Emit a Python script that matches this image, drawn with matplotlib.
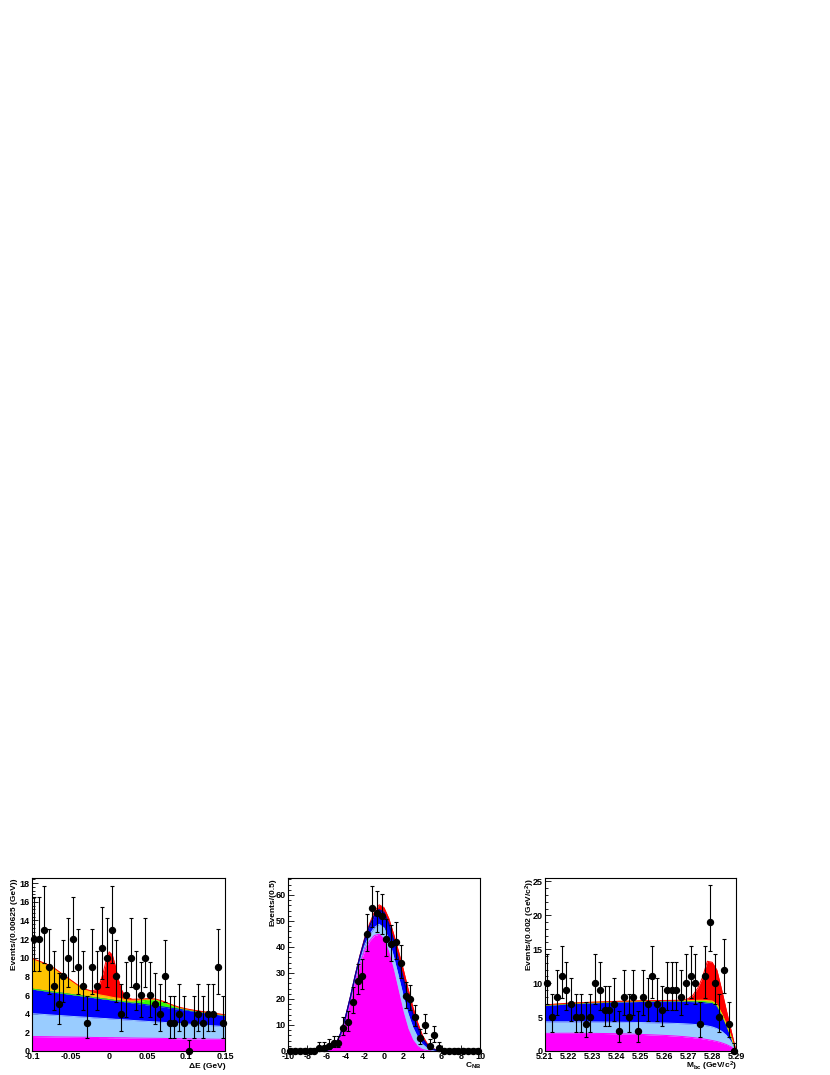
import numpy as np
import matplotlib
matplotlib.use('Agg')
import matplotlib.pyplot as plt
from matplotlib.ticker import MultipleLocator, FixedLocator

plt.rcParams['font.family'] = ['Liberation Sans', 'DejaVu Sans']
plt.rcParams['mathtext.default'] = 'regular'
plt.rcParams['axes.unicode_minus'] = False

# ---------------- Panel 1: Delta E ----------------
de_range = (-0.1, 0.15)
de_counts = [12, 12, 13, 9, 7, 5, 8, 10, 12, 9,
             7, 3, 9, 7, 11, 10, 13, 8, 4, 6,
             10, 7, 6, 10, 6, 5, 4, 8, 3, 3,
             4, 3, 0, 3, 4, 3, 4, 4, 9, 3]
de_x = [-0.1, -0.09, -0.08, -0.07, -0.06, -0.05, -0.04, -0.03, -0.024, -0.02,
        -0.016, -0.012, -0.008, -0.004, 0.0, 0.004, 0.008, 0.012, 0.016, 0.02,
        0.025, 0.03, 0.04, 0.05, 0.06, 0.07, 0.08, 0.09, 0.1, 0.11,
        0.12, 0.13, 0.14, 0.15]
de_magenta = [1.55, 1.54, 1.53, 1.51, 1.50, 1.49, 1.48, 1.47, 1.46, 1.45,
              1.45, 1.44, 1.44, 1.44, 1.43, 1.43, 1.42, 1.42, 1.41, 1.41,
              1.40, 1.39, 1.38, 1.37, 1.36, 1.35, 1.33, 1.32, 1.31, 1.30,
              1.29, 1.27, 1.26, 1.25]
de_lightblue = [2.45, 2.41, 2.36, 2.32, 2.28, 2.23, 2.19, 2.15, 2.12, 2.10,
                2.09, 2.07, 2.05, 2.04, 2.02, 2.00, 1.98, 1.97, 1.95, 1.93,
                1.91, 1.89, 1.85, 1.80, 1.76, 1.72, 1.67, 1.63, 1.59, 1.54,
                1.50, 1.46, 1.41, 1.37]
de_blue = [2.64, 2.58, 2.52, 2.46, 2.41, 2.35, 2.29, 2.23, 2.20, 2.17,
           2.15, 2.13, 2.10, 2.08, 2.06, 2.03, 2.01, 1.99, 1.97, 1.94,
           1.91, 1.88, 1.82, 1.76, 1.71, 1.65, 1.59, 1.53, 1.48, 1.42,
           1.36, 1.30, 1.24, 1.18]
de_green = [0, 0, 0, 0, 0, 0, 0, 0, 0, 0,
            0, 0, 0, 0, 0, 0, 0, 0, 0, 0.01,
            0.03, 0.07, 0.30, 0.52, 0.62, 0.50, 0.30, 0.14, 0.06, 0.03,
            0.02, 0.02, 0.02, 0.02]
de_orange = [3.26, 3.07, 2.84, 2.50, 2.00, 1.53, 1.05, 0.71, 0.56, 0.47,
             0.42, 0.38, 0.36, 0.34, 0.32, 0.30, 0.29, 0.28, 0.27, 0.25,
             0.23, 0.20, 0.16, 0.12, 0.10, 0.08, 0.07, 0.06, 0.05, 0.05,
             0.04, 0.04, 0.04, 0.04]
de_red = [0.02, 0.02, 0.02, 0.02, 0.02, 0.02, 0.02, 0.05, 0.12, 0.28,
          0.60, 1.25, 2.35, 3.80, 4.80, 4.55, 3.40, 1.95, 0.95, 0.45,
          0.22, 0.12, 0.06, 0.04, 0.03, 0.03, 0.03, 0.03, 0.03, 0.03,
          0.03, 0.03, 0.03, 0.03]
de_xticks = [-0.1, -0.05, 0.0, 0.05, 0.1, 0.15]
de_xticklabels = ['-0.1', '-0.05', '0', '0.05', '0.1', '0.15']
de_yticks = [0, 2, 4, 6, 8, 10, 12, 14, 16, 18]

# ---------------- Panel 2: C_NB ----------------
cnb_range = (-10.0, 10.0)
cnb_counts = [0, 0, 0, 0, 0, 0, 1, 1, 2, 3,
              3, 9, 11, 19, 27, 29, 45, 55, 53, 52,
              43, 41, 42, 34, 21, 20, 13, 5, 10, 2,
              6, 1, 0, 0, 0, 0, 0, 0, 0, 0]
cnb_x = [-10.0, -9.5, -9.0, -8.5, -8.0, -7.5, -7.0, -6.5, -6.0, -5.5,
         -5.0, -4.5, -4.0, -3.5, -3.0, -2.5, -2.0, -1.5, -1.0, -0.5,
         0.0, 0.5, 1.0, 1.5, 2.0, 2.5, 3.0, 3.5, 4.0, 4.5,
         5.0, 5.5, 6.0, 6.5, 7.0, 7.5, 8.0, 8.5, 9.0, 9.5, 10.0]
cnb_magenta = [0, 0, 0, 0, 0, 0, 0, 0, 0.2, 0.8,
               2.5, 6.5, 12.5, 19.5, 27.0, 33.5, 38.8, 42.3, 44.4, 44.9,
               43.0, 38.0, 31.0, 23.0, 15.0, 8.5, 4.2, 1.8, 0.6, 0.15,
               0, 0, 0, 0, 0, 0, 0, 0, 0, 0, 0]
cnb_lightblue = [0, 0, 0, 0, 0, 0, 0, 0, 0.01, 0.03,
                 0.08, 0.15, 0.30, 0.55, 0.90, 1.30, 1.80, 2.40, 3.10, 3.80,
                 4.30, 4.80, 5.20, 5.80, 6.20, 5.90, 4.90, 3.50, 2.00, 0.90,
                 0.30, 0.08, 0.02, 0, 0, 0, 0, 0, 0, 0, 0]
cnb_blue = [0, 0, 0, 0, 0, 0, 0, 0, 0.01, 0.04,
            0.10, 0.20, 0.35, 0.60, 1.00, 1.60, 2.40, 3.40, 4.60, 5.60,
            5.90, 6.00, 6.30, 6.60, 6.80, 6.30, 5.20, 3.70, 2.20, 1.20,
            0.45, 0.15, 0.04, 0.01, 0, 0, 0, 0, 0, 0, 0]
cnb_red = [0, 0, 0, 0, 0, 0, 0, 0, 0, 0.01,
           0.03, 0.05, 0.10, 0.15, 0.25, 0.40, 0.60, 0.90, 1.30, 1.90,
           1.90, 2.20, 2.50, 3.10, 3.50, 3.30, 2.70, 2.00, 1.20, 0.65,
           0.25, 0.07, 0.02, 0, 0, 0, 0, 0, 0, 0, 0]
cnb_xticks = [-10, -8, -6, -4, -2, 0, 2, 4, 6, 8, 10]
cnb_xticklabels = ['-10', '-8', '-6', '-4', '-2', '0', '2', '4', '6', '8', '10']
cnb_yticks = [0, 10, 20, 30, 40, 50, 60]

# ---------------- Panel 3: Mbc ----------------
mbc_range = (5.21, 5.29)
mbc_counts = [10, 5, 8, 11, 9, 7, 5, 5, 4, 5,
              10, 9, 6, 6, 7, 3, 8, 5, 8, 3,
              8, 7, 11, 7, 6, 9, 9, 9, 8, 10,
              11, 10, 4, 11, 19, 10, 5, 12, 4, 0]
mbc_x = [5.21, 5.22, 5.23, 5.24, 5.25, 5.26, 5.265, 5.268, 5.27, 5.272,
         5.274, 5.276, 5.278, 5.28, 5.282, 5.284, 5.286, 5.288, 5.29]
mbc_magenta = [2.60, 2.62, 2.60, 2.55, 2.45, 2.30, 2.20, 2.12, 2.05, 1.97,
               1.89, 1.80, 1.68, 1.55, 1.40, 1.20, 0.95, 0.60, 0]
mbc_lightblue = [1.70, 1.68, 1.68, 1.70, 1.75, 1.82, 1.86, 1.90, 1.93, 1.96,
                 1.98, 2.00, 2.02, 2.00, 1.90, 1.70, 1.35, 0.70, 0]
mbc_blue = [2.40, 2.65, 2.82, 2.97, 3.10, 3.23, 3.29, 3.31, 3.32, 3.34,
            3.35, 3.35, 3.35, 3.45, 3.30, 2.40, 1.50, 0.70, 0]
mbc_green = [0.03, 0.03, 0.03, 0.03, 0.03, 0.03, 0.03, 0.03, 0.05, 0.08,
             0.12, 0.16, 0.18, 0.18, 0.15, 0.10, 0.06, 0.03, 0]
mbc_orange = [0.05, 0.05, 0.05, 0.05, 0.05, 0.05, 0.05, 0.05, 0.07, 0.10,
              0.14, 0.18, 0.20, 0.20, 0.17, 0.12, 0.07, 0.03, 0]
mbc_red = [0.02, 0.02, 0.02, 0.02, 0.02, 0.02, 0.04, 0.12, 0.30, 0.80,
           1.80, 3.40, 5.80, 5.70, 5.00, 3.50, 2.00, 0.90, 0]
mbc_xticks = [5.21, 5.22, 5.23, 5.24, 5.25, 5.26, 5.27, 5.28, 5.29]
mbc_xticklabels = ['5.21', '5.22', '5.23', '5.24', '5.25', '5.26', '5.27', '5.28', '5.29']
mbc_yticks = [0, 5, 10, 15, 20, 25]

C_MAGENTA = '#ff00ff'
C_LBLUE = '#99ccff'
C_BLUE = '#0000ff'
C_GREEN = '#33ff00'
C_ORANGE = '#ffc400'
C_RED = '#ff0000'

W, H = 830, 1075
fig = plt.figure(figsize=(W / 100, H / 100), dpi=100)


def frac_x(px):
    return px / W


def frac_y(py):
    return 1 - py / H


def pois_err(n):
    n = np.asarray(n, dtype=float)
    lo = np.zeros_like(n)
    hi = np.full_like(n, 1.147)
    m = n > 0
    nn = n[m]
    lo[m] = nn - nn * (1 - 1 / (9 * nn) - 1 / (3 * np.sqrt(nn))) ** 3
    n1 = nn + 1
    hi[m] = n1 * (1 - 1 / (9 * n1) + 1 / (3 * np.sqrt(n1))) ** 3 - nn
    return lo, hi


def panel(left_px, right_px, xr, ylim, counts, xs, comps, xticks, xticklabels,
          yticks, xminor, yminor, ylabel, ylabel_px, xlabel, edge_blue=False):
    top_px, bot_px = 878, 1051
    ax = fig.add_axes([frac_x(left_px), frac_y(bot_px),
                       frac_x(right_px - left_px), (bot_px - top_px) / H])
    xs = np.asarray(xs)
    base = np.zeros_like(xs, dtype=float)
    for vals, col in comps:
        top = base + np.asarray(vals, dtype=float)
        ax.fill_between(xs, base, top, color=col, lw=0, zorder=2)
        ax.plot(xs, top, color=col, lw=0.7, zorder=2.5)
        base = top
    if edge_blue:
        # darker outline of the blue component
        cum = np.zeros_like(xs, dtype=float)
        for vals, col in comps[:3]:
            cum = cum + np.asarray(vals, dtype=float)
        ax.plot(xs, cum, color='#0000a0', lw=1.0, zorder=2.6)

    nb = len(counts)
    width = (xr[1] - xr[0]) / nb
    centers = xr[0] + width * (np.arange(nb) + 0.5)
    lo, hi = pois_err(counts)
    ax.errorbar(centers, counts, yerr=[lo, hi], fmt='o', color='black',
                ms=4.3, elinewidth=0.8, capsize=1.3, capthick=0.8,
                zorder=5, clip_on=False)

    ax.set_xlim(*xr)
    ax.set_ylim(*ylim)
    ax.xaxis.set_major_locator(FixedLocator(xticks))
    ax.set_xticklabels(xticklabels)
    ax.yaxis.set_major_locator(FixedLocator(yticks))
    ax.set_yticklabels([str(t) for t in yticks])
    ax.xaxis.set_minor_locator(MultipleLocator(xminor))
    ax.yaxis.set_minor_locator(MultipleLocator(yminor))
    ax.tick_params(which='both', direction='in', top=False, right=False,
                   labelsize=6.5, width=0.6)
    ax.tick_params(which='major', length=4.5)
    ax.tick_params(which='minor', length=2.2)
    ax.tick_params(axis='x', pad=1.0)
    ax.tick_params(axis='y', pad=1.5)
    for lab in ax.get_xticklabels() + ax.get_yticklabels():
        lab.set_fontweight('bold')
    for sp in ax.spines.values():
        sp.set_linewidth(0.8)
        sp.set_color('black')
        sp.set_zorder(6)
    fig.text(frac_x(ylabel_px), frac_y(top_px), ylabel, rotation=90,
             ha='center', va='top', fontsize=6, fontweight='bold')
    fig.text(frac_x(right_px + 1), frac_y(1066), xlabel, ha='right',
             va='center', fontsize=6, fontweight='bold')
    return ax


panel(32, 225, de_range, (0, 18.55), de_counts, de_x,
      [(de_magenta, C_MAGENTA), (de_lightblue, C_LBLUE), (de_blue, C_BLUE),
       (de_green, C_GREEN), (de_orange, C_ORANGE), (de_red, C_RED)],
      de_xticks, de_xticklabels, de_yticks, 0.01, 0.4,
      'Events/(0.00625 (GeV))', 15, '\u0394E (GeV)')

panel(288, 480, cnb_range, (0, 66.5), cnb_counts, cnb_x,
      [(cnb_magenta, C_MAGENTA), (cnb_lightblue, C_LBLUE), (cnb_blue, C_BLUE),
       (cnb_red, C_RED)],
      cnb_xticks, cnb_xticklabels, cnb_yticks, 0.4, 2,
      'Events/(0.5)', 273, '$C_{NB}$', edge_blue=True)

panel(545, 736, mbc_range, (0, 25.5), mbc_counts, mbc_x,
      [(mbc_magenta, C_MAGENTA), (mbc_lightblue, C_LBLUE), (mbc_blue, C_BLUE),
       (mbc_green, C_GREEN), (mbc_orange, C_ORANGE), (mbc_red, C_RED)],
      mbc_xticks, mbc_xticklabels, mbc_yticks, 0.002, 1,
      'Events/(0.002 (GeV/c$^{2}$))', 530, '$M_{bc}$ (GeV/c$^{2}$)')

fig.savefig('out.png', dpi=100)
